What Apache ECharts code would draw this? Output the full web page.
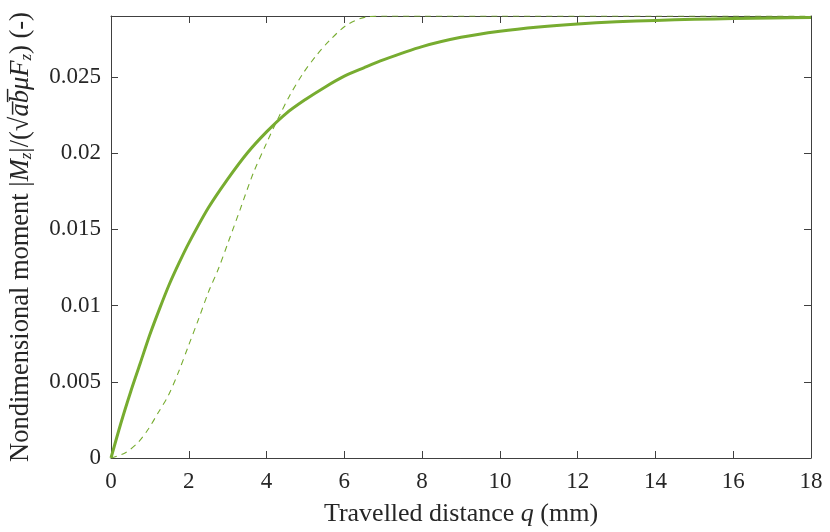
<!DOCTYPE html>
<html>
<head>
<meta charset="utf-8">
<script src="https://cdn.jsdelivr.net/npm/echarts@6/dist/echarts.min.js"></script>
<style>html,body{margin:0;padding:0;background:#fff;}#c{width:830px;height:532px;}</style>
</head>
<body>
<div id="c"></div>
<script>
// Travelled distance q (mm) and nondimensional moment
const solidQ = [0, 0.25, 0.5, 0.75, 1.0, 1.25, 1.5, 1.75, 2.0, 2.5, 3.0, 3.5, 4.0, 4.5, 5.0, 5.5, 6.0, 6.5, 7.0, 8, 9, 10, 11, 12, 13, 14, 15, 16, 17, 18];
const solidV = [0, 0.00225, 0.0043, 0.0062, 0.0081, 0.0098, 0.0114, 0.0128, 0.0141, 0.0164, 0.0183, 0.0200, 0.0214, 0.0226, 0.02352, 0.02433, 0.02505, 0.0256, 0.02612, 0.02699, 0.02760, 0.02800, 0.02828, 0.02848, 0.02862, 0.02871, 0.02878, 0.02883, 0.02887, 0.0289];
const dashQ = [0, 0.36, 0.70, 0.96, 1.22, 1.47, 1.73, 1.99, 2.25, 2.50, 2.76, 3.02, 3.32, 3.66, 4.00, 4.30, 4.60, 4.94, 5.29, 5.63, 6.06, 6.57, 7.1, 8, 10, 12, 14, 16, 18];
const dashV = [0, 0.00033, 0.00103, 0.0019, 0.0030, 0.00408, 0.0056, 0.00735, 0.0091, 0.01085, 0.0124, 0.0142, 0.0163, 0.0187, 0.02066, 0.0223, 0.0238, 0.02524, 0.02644, 0.02742, 0.0284, 0.02894, 0.0290, 0.0290, 0.0290, 0.0290, 0.0290, 0.0290, 0.0290];
const xTicks = [0, 2, 4, 6, 8, 10, 12, 14, 16, 18];
const yTicks = [0, 0.005, 0.01, 0.015, 0.02, 0.025];

const FONT = 'Liberation Serif';
const TXT = '#262626';
const AX = '#404040';
const GREEN = '#77AC30';

const zip = (a, b) => a.map((v, i) => [v, b[i]]);

const axisCommon = {
  axisLine: {show: true, onZero: false, lineStyle: {color: AX, width: 1}},
  axisTick: {show: true, inside: true, length: 7, lineStyle: {color: AX, width: 1}},
  splitLine: {show: false}
};

const chart = echarts.init(document.getElementById('c'));
chart.setOption({
  animation: false,
  backgroundColor: '#fff',
  grid: {left: 111, right: 19, top: 16, bottom: 73, containLabel: false},
  xAxis: [
    Object.assign({
      type: 'value', min: xTicks[0], max: xTicks[xTicks.length - 1], interval: 2,
      name: 'Travelled distance {i|q} (mm)', nameLocation: 'middle', nameGap: 43,
      nameTextStyle: {fontFamily: FONT, fontSize: 26, color: TXT,
        rich: {i: {fontFamily: FONT, fontSize: 26, fontStyle: 'italic', color: TXT}}},
      axisLabel: {fontFamily: FONT, fontSize: 23, color: TXT, margin: 12,
        formatter: v => String(v)}
    }, axisCommon),
    Object.assign({
      type: 'value', position: 'top', min: xTicks[0], max: xTicks[xTicks.length - 1], interval: 2,
      axisLabel: {show: false}
    }, axisCommon)
  ],
  yAxis: [
    Object.assign({
      type: 'value', min: 0, max: 0.029, interval: 0.005,
      name: 'Nondimensional moment |{i|M}{s|z}|/(√{o|a\u0305b\u0305}{i|μF}{s|z}) (-)',
      nameLocation: 'middle', nameGap: 76, nameRotate: 90,
      nameTextStyle: {fontFamily: FONT, fontSize: 26.5, color: TXT,
        rich: {
          i: {fontFamily: FONT, fontSize: 26.5, fontStyle: 'italic', color: TXT},
          o: {fontFamily: FONT, fontSize: 26.5, fontStyle: 'italic', color: TXT},
          s: {fontFamily: FONT, fontSize: 17, fontStyle: 'italic', color: TXT, padding: [10, 0, 0, 0]}
        }},
      axisLabel: {fontFamily: FONT, fontSize: 23, color: TXT, margin: 10, showMaxLabel: false,
        formatter: v => String(+v.toFixed(3))}
    }, axisCommon),
    Object.assign({
      type: 'value', position: 'right', min: 0, max: 0.029, interval: 0.005,
      axisLabel: {show: false}
    }, axisCommon)
  ],
  series: [
    {
      type: 'line', data: zip(dashQ, dashV), xAxisIndex: 0, yAxisIndex: 0,
      smooth: 0.3, symbol: 'none',
      lineStyle: {color: GREEN, width: 1.1, type: [6, 5]}, z: 3
    },
    {
      type: 'line', data: zip(solidQ, solidV), xAxisIndex: 0, yAxisIndex: 0,
      smooth: 0.3, symbol: 'none',
      lineStyle: {color: GREEN, width: 3}, z: 4
    }
  ]
});
</script>
</body>
</html>
